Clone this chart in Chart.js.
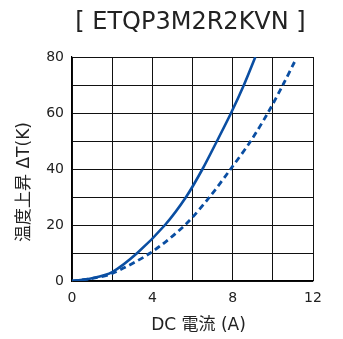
<!DOCTYPE html>
<html>
<head>
<meta charset="utf-8">
<script src="https://cdn.jsdelivr.net/npm/chart.js@4"></script>
<style>
  html, body { margin: 0; padding: 0; background: #fff; }
  #wrap { width: 343px; height: 339px; }
</style>
</head>
<body>
<div id="wrap"><canvas id="myChart" width="343" height="339"></canvas></div>
<script>
var fontFam = "'DejaVu Sans', 'Noto Sans CJK JP', sans-serif"

// solid line (read at the grid crossings)
var solidX = [0, 1, 2, 3.25, 4.63, 5.68, 6.5, 7.22, 7.92, 8.56, 9.13]
var solidY = [0, 1, 3.2, 10, 20, 30, 40, 50, 60, 70, 80]
// dashed line
var dashX = [0, 1, 2, 3.9, 5.63, 6.85, 7.9, 8.9, 9.75, 10.5, 11.1]
var dashY = [0, 0.9, 2.7, 10, 20, 30, 40, 50, 60, 70, 78.5]

var xLabels = [0, 4, 8, 12]
var yLabels = [0, 20, 40, 60, 80]

var chartTitle = '[ ETQP3M2R2KVN ]'
var xTitle = 'DC 電流 (A)'
var yTitle = '温度上昇 ΔT(K)'

function pts(xs, ys){
  return xs.map(function(x, i){ return {x: x, y: ys[i]} })
}

var blue = '#0a4ea2'

// titles drawn by hand so they can sit where the reference has them
var titles = {
  id: 'titles',
  afterDraw: function(chart){
    var c = chart.ctx, a = chart.chartArea
    c.save()
    c.fillStyle = '#222'
    c.textAlign = 'center'
    c.textBaseline = 'middle'
    c.font = '24px ' + fontFam
    c.fillText(chartTitle, (a.left + a.right) / 2 - 2, 23)
    c.font = '17px ' + fontFam
    c.fillText(xTitle, (a.left + a.right) / 2 + 6, 326)
    c.translate(25, 182)
    c.rotate(-Math.PI / 2)
    c.fillText(yTitle, 0, 0)
    c.restore()
  }
}

var data = {
  datasets: [{
    label: 'solid',
    data: pts(solidX, solidY),
    borderColor: blue,
    borderWidth: 2.6,
    pointRadius: 0,
    showLine: true,
    tension: 0.3
  }, {
    label: 'dashed',
    data: pts(dashX, dashY),
    borderColor: blue,
    borderWidth: 2.8,
    borderDash: [6, 4],
    pointRadius: 0,
    showLine: true,
    tension: 0.3
  }]
}

const config = {
  type: 'scatter',
  data,
  options: {
    responsive: false,
    animation: false,
    layout: { padding: { left: 0, right: 30, top: 57, bottom: 0 } },
    plugins: {
      legend: { display: false },
      tooltip: { enabled: false },
      title: { display: false }
    },
    scales: {
      x: {
        type: 'linear',
        min: 0, max: 12,
        afterFit: function(s){ s.height = 58 },
        border: { color: '#000', width: 1.2 },
        grid: { color: '#111', lineWidth: 1, drawTicks: false },
        ticks: {
          stepSize: 2,
          padding: 9,
          color: '#222',
          font: { family: fontFam, size: 14 },
          maxRotation: 0,
          callback: function(v){ return xLabels.indexOf(v) >= 0 ? v : '' }
        }
      },
      y: {
        min: 0, max: 80,
        afterFit: function(s){ s.width = 72 },
        border: { color: '#000', width: 1.2 },
        grid: { color: '#111', lineWidth: 1, drawTicks: false },
        ticks: {
          stepSize: 10,
          padding: 8,
          color: '#222',
          font: { family: fontFam, size: 14 },
          callback: function(v){ return yLabels.indexOf(v) >= 0 ? v : '' }
        }
      }
    }
  },
  plugins: [titles]
}

var myChart = new Chart(document.getElementById('myChart'), config)
</script>
</body>
</html>
